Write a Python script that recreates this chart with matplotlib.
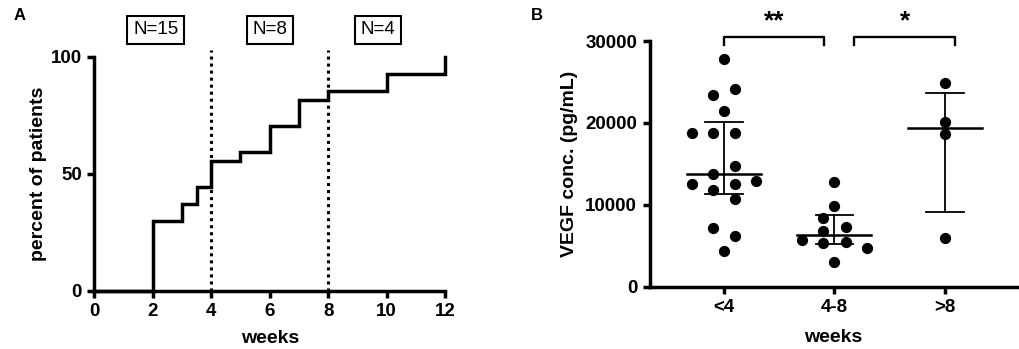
import matplotlib
matplotlib.use("Agg")
import matplotlib.pyplot as plt
import numpy as np

plt.rcParams['font.family'] = ['Liberation Sans', 'DejaVu Sans']

# ---------------- Panel A data ----------------
weeks_steps = [0, 2, 3, 3.5, 4, 5, 6, 7, 8, 10, 12]
percent_steps = [0, 29.6, 37.0, 44.4, 55.6, 59.3, 70.4, 81.5, 85.2, 92.6, 100]
cutoffs = [4, 8]
n_labels = ['N=15', 'N=8', 'N=4']
n_label_x = [2.1, 6.0, 9.7]
xticksA = [0, 2, 4, 6, 8, 10, 12]
yticksA = [0, 50, 100]

# ---------------- Panel B data ----------------
groups = ['<4', '4-8', '>8']
vegf_lt4 = [27770, 24110, 23410, 21500, 18820, 18740, 18740, 14800, 13780,
            12520, 12560, 12970, 11830, 10730, 7150, 6260, 4390]
jit_lt4 = [0, 0.1, -0.1, 0, -0.29, -0.1, 0.1, 0.1, -0.1,
           -0.29, 0.1, 0.29, -0.1, 0.1, -0.1, 0.1, 0]
vegf_4_8 = [12770, 9880, 8380, 7350, 6870, 5730, 5330, 5450, 4790, 3090]
jit_4_8 = [0, 0, -0.1, 0.1, -0.1, -0.29, -0.1, 0.1, 0.29, 0]
vegf_gt8 = [24840, 20120, 18660, 6010]
jit_gt8 = [0, 0, 0, 0]
medians = [13780, 6340, 19350]
err_low = [11300, 5280, 9180]
err_high = [20160, 8780, 23620]
yticksB = [0, 10000, 20000, 30000]
sig_pairs = [(0, 0.905, '**'), (1.18, 2.09, '*')]

fig = plt.figure(figsize=(10.2, 3.49), dpi=100)

LW = 2.5
tick_fs = 13.5
lab_fs = 14

# ---------------- Panel A ----------------
axA = fig.add_axes([0.0925, 0.167, 0.3438, 0.6705])
axA.plot(weeks_steps, percent_steps, drawstyle='steps-post', color='black',
         lw=LW, solid_joinstyle='miter', clip_on=False, zorder=3)
for c in cutoffs:
    axA.plot([c, c], [0, 103], color='black', lw=2.2, ls=(0, (1, 1.3)),
             clip_on=False, zorder=2)
for lab, x in zip(n_labels, n_label_x):
    axA.text(x, 111.5, lab, ha='center', va='center', fontsize=13.5,
             bbox=dict(boxstyle='square,pad=0.3', fc='white', ec='black', lw=1.5),
             clip_on=False)
axA.set_xlim(0, 12)
axA.set_ylim(0, 100)
axA.set_xticks(xticksA)
axA.set_yticks(yticksA)
for s in ['top', 'right']:
    axA.spines[s].set_visible(False)
for s in ['left', 'bottom']:
    axA.spines[s].set_linewidth(LW)
axA.tick_params(width=LW, length=5, labelsize=tick_fs, pad=4)
for t in axA.get_xticklabels() + axA.get_yticklabels():
    t.set_fontweight('bold')
axA.set_xlabel('weeks', fontsize=lab_fs, fontweight='bold', labelpad=7)
axA.set_ylabel('percent of patients', fontsize=lab_fs, fontweight='bold', labelpad=3)
fig.text(0.013, 0.955, 'A', fontsize=12, fontweight='bold', va='center')

# ---------------- Panel B ----------------
axB = fig.add_axes([0.637, 0.178, 0.36, 0.7045])
data = [vegf_lt4, vegf_4_8, vegf_gt8]
jits = [jit_lt4, jit_4_8, jit_gt8]
for i, (vals, jit) in enumerate(zip(data, jits)):
    xs = i + np.array(jit)
    axB.scatter(xs, vals, s=50, color='black', zorder=2, clip_on=False)
    axB.plot([i - 0.335, i + 0.335], [medians[i], medians[i]], color='black',
             lw=1.8, zorder=3)
    axB.plot([i, i], [err_low[i], err_high[i]], color='black', lw=1.3, zorder=3)
    for e in (err_low[i], err_high[i]):
        axB.plot([i - 0.17, i + 0.17], [e, e], color='black', lw=1.3, zorder=3)

for x0, x1, star in sig_pairs:
    axB.plot([x0, x0, x1, x1], [29500, 30520, 30520, 29500], color='black',
             lw=1.7, clip_on=False)
    axB.text((x0 + x1) / 2, 30900, star, ha='center', va='bottom',
             fontsize=19, fontweight='bold')

axB.set_xlim(-0.67, 2.65)
axB.set_ylim(0, 30000)
axB.set_xticks([0, 1, 2])
axB.set_xticklabels(groups)
axB.set_yticks(yticksB)
for s in ['top', 'right']:
    axB.spines[s].set_visible(False)
for s in ['left', 'bottom']:
    axB.spines[s].set_linewidth(LW)
axB.tick_params(width=LW, length=5, labelsize=tick_fs, pad=4)
for t in axB.get_xticklabels() + axB.get_yticklabels():
    t.set_fontweight('bold')
axB.set_xlabel('weeks', fontsize=lab_fs, fontweight='bold', labelpad=9)
axB.set_ylabel('VEGF conc. (pg/mL)', fontsize=lab_fs, fontweight='bold', labelpad=5)
fig.text(0.52, 0.955, 'B', fontsize=12, fontweight='bold', va='center')

fig.savefig('out.png', dpi=100)
